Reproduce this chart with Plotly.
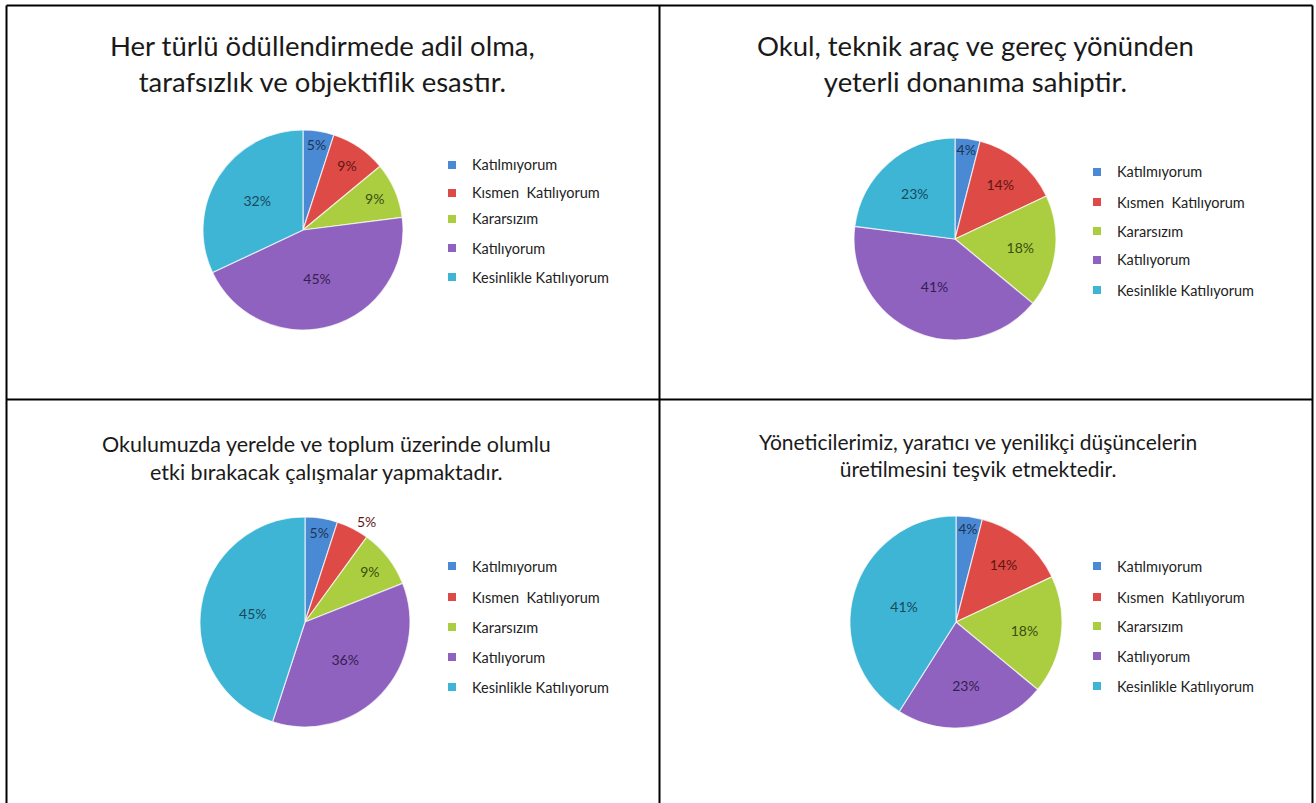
import plotly.graph_objects as go

W, H = 1316, 803

categories = ["Katılmıyorum", "Kısmen Katılıyorum", "Kararsızım", "Katılıyorum", "Kesinlikle Katılıyorum"]
legend_texts = ["Katılmıyorum", "Kısmen  Katılıyorum", "Kararsızım", "Katılıyorum", "Kesinlikle Katılıyorum"]
colors = ["#4a8ad4", "#de4a45", "#aace40", "#9062c0", "#3fb5d6"]
text_colors = ["#1c3557", "#5e1614", "#3a4f12", "#35204f", "#17495a"]

titles = [
    "Her türlü ödüllendirmede adil olma,<br>tarafsızlık ve objektiflik esastır.",
    "Okul, teknik araç ve gereç yönünden<br>yeterli donanıma sahiptir.",
    "Okulumuzda yerelde ve toplum üzerinde olumlu<br>etki bırakacak çalışmalar yapmaktadır.",
    "Yöneticilerimiz, yaratıcı ve yenilikçi düşüncelerin<br>üretilmesini teşvik etmektedir.",
]
values_1 = [5, 9, 9, 45, 32]
values_2 = [4, 14, 18, 41, 23]
values_3 = [5, 5, 9, 36, 45]
values_4 = [4, 14, 18, 23, 41]
all_values = [values_1, values_2, values_3, values_4]

# layout (pixels)
pie_centers = [(303, 230), (955, 239), (305, 622), (956, 622)]
pie_radii = [100, 101, 105, 106]
title_pos = [(322, 64, 27.5), (975, 64, 27.5), (326, 458, 21.5), (978, 455, 21)]
legend_x = [452, 1097, 452, 1097]
legend_rows = [[165, 193, 219, 248, 277], [172, 202, 231, 260, 290],
               [566, 597, 627, 657, 687], [566, 597, 626, 656, 686]]
textpos = [["inside"] * 5, ["inside"] * 5,
           ["inside", "outside", "inside", "inside", "inside"], ["inside"] * 5]


def px(x):
    return x / W


def py(y):
    return 1 - y / H


fig = go.Figure()
for i, vals in enumerate(all_values):
    cx, cy = pie_centers[i]
    r = pie_radii[i]
    fig.add_trace(go.Pie(
        labels=categories, values=vals, sort=False, direction="clockwise",
        rotation=0,
        domain=dict(x=[px(cx - r), px(cx + r)], y=[py(cy + r), py(cy - r)]),
        marker=dict(colors=colors, line=dict(color="rgba(255,255,255,0.7)", width=1.2)),
        texttemplate="%{value}%", textposition=textpos[i],
        insidetextorientation="horizontal",
        textfont=dict(family="Lato, sans-serif", size=14, color=text_colors),
        showlegend=False, hoverinfo="label+percent",
    ))

annotations = []
shapes = []
for i in range(4):
    tx, ty, fs = title_pos[i]
    annotations.append(dict(
        x=px(tx), y=py(ty), xref="paper", yref="paper", text=titles[i],
        showarrow=False, xanchor="center", yanchor="middle", align="center",
        font=dict(family="Lato, sans-serif", size=fs, color="#1a1a1a"),
    ))
    for j, cat in enumerate(legend_texts):
        ry = legend_rows[i][j]
        mx = legend_x[i]
        shapes.append(dict(
            type="rect", xref="paper", yref="paper",
            x0=px(mx - 4), x1=px(mx + 4), y0=py(ry + 4), y1=py(ry - 4),
            fillcolor=colors[j], line=dict(width=0),
        ))
        annotations.append(dict(
            x=px(mx + 18), y=py(ry), xref="paper", yref="paper", text=cat,
            showarrow=False, xanchor="left", yanchor="middle",
            font=dict(family="Lato, sans-serif", size=14.5, color="#222222"),
        ))

# frame lines
for (x0, y0, x1, y1) in [(6.5, 5.5, 1312.5, 5.5), (6.5, 5.5, 6.5, 803), (1312.5, 5.5, 1312.5, 803),
                          (659.5, 5.5, 659.5, 803), (6.5, 399.5, 1312.5, 399.5)]:
    shapes.append(dict(type="line", xref="paper", yref="paper",
                       x0=px(x0), y0=py(y0), x1=px(x1), y1=py(y1),
                       line=dict(color="#000000", width=2)))

fig.update_layout(
    width=W, height=H, margin=dict(l=0, r=0, t=0, b=0),
    paper_bgcolor="white", plot_bgcolor="white",
    annotations=annotations, shapes=shapes,
    uniformtext=dict(minsize=14, mode="show"),
)

fig.write_html(
    "out.html",
    config={"displayModeBar": False},
    post_script="document.body.style.margin='0';document.body.style.overflow='hidden';",
)
